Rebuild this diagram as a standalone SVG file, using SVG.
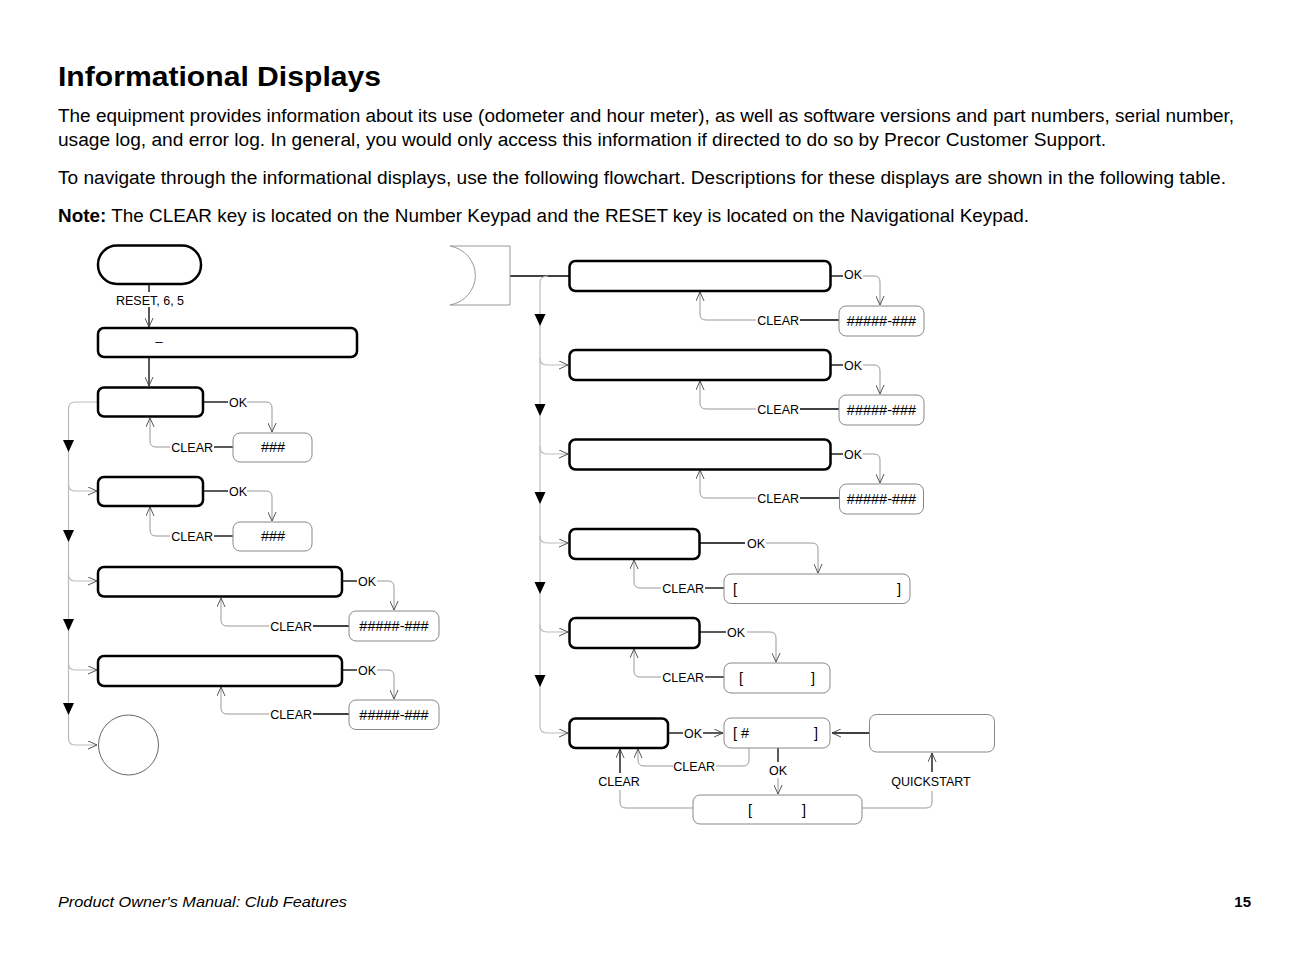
<svg xmlns="http://www.w3.org/2000/svg" width="1312" height="954" viewBox="0 0 1312 954">
<style>
text{font-family:"Liberation Sans",Arial,Helvetica,sans-serif;fill:#000}
.h{font-size:28px;font-weight:bold}
.p{font-size:18px}
.l{font-size:12.5px}
.v{font-size:13.5px}
.w{font-size:14.5px}
.mb{fill:#fff;stroke:#000;stroke-width:2.5}
.vb{fill:#fff;stroke:#888;stroke-width:1}
.g{fill:none;stroke:#999;stroke-width:1}
.k{fill:none;stroke:#000;stroke-width:1.3}
.sp{fill:none;stroke:#bbb;stroke-width:1.2}
.tri{fill:#000}
</style>
<defs>
<marker id="a" viewBox="0 0 10 10" refX="10" refY="5" markerWidth="9" markerHeight="9" markerUnits="userSpaceOnUse" orient="auto"><path d="M0,0.5 L10,5 L0,9.5" fill="none" stroke="#444" stroke-width="1"/></marker>
</defs>
<rect width="1312" height="954" fill="#fff"/>

<g id="header">
<text class="h" x="58" y="86" textLength="323" lengthAdjust="spacingAndGlyphs">Informational Displays</text>
<text class="p" x="58" y="122" textLength="1176" lengthAdjust="spacingAndGlyphs">The equipment provides information about its use (odometer and hour meter), as well as software versions and part numbers, serial number,</text>
<text class="p" x="58" y="146" textLength="1048" lengthAdjust="spacingAndGlyphs">usage log, and error log. In general, you would only access this information if directed to do so by Precor Customer Support.</text>
<text class="p" x="58" y="184" textLength="1168" lengthAdjust="spacingAndGlyphs">To navigate through the informational displays, use the following flowchart. Descriptions for these displays are shown in the following table.</text>
<text class="p" x="58" y="222" textLength="971" lengthAdjust="spacingAndGlyphs"><tspan font-weight="bold">Note:</tspan> The CLEAR key is located on the Number Keypad and the RESET key is located on the Navigational Keypad.</text>
</g>

<g id="connectors">
<path class="k" d="M149,284 V292"/>
<path class="k" d="M149,307 V327" marker-end="url(#a)"/>
<path class="k" d="M149,357 V386" marker-end="url(#a)"/>
<path class="sp" d="M98,402 H75 Q68.5,402 68.5,409 V738 Q68.5,745 75,745 H97" marker-end="url(#a)"/>
<path class="sp" d="M68.5,484 Q68.5,491 75,491 H97" marker-end="url(#a)"/>
<path class="sp" d="M68.5,574 Q68.5,581 75,581 H97" marker-end="url(#a)"/>
<path class="sp" d="M68.5,663 Q68.5,670 75,670 H97" marker-end="url(#a)"/>
<path class="k" d="M203,402 H228"/>
<path class="g" d="M247,402 H266 Q272,402 272,408 V432" marker-end="url(#a)"/>
<path class="k" d="M233,447 H214"/>
<path class="g" d="M170,447 H156 Q150,447 150,441 V418" marker-end="url(#a)"/>
<path class="k" d="M203,491 H228"/>
<path class="g" d="M247,491 H266 Q272,491 272,497 V521" marker-end="url(#a)"/>
<path class="k" d="M233,536 H214"/>
<path class="g" d="M170,536 H156 Q150,536 150,530 V507" marker-end="url(#a)"/>
<path class="k" d="M342,581 H357"/>
<path class="g" d="M377,581 H388 Q394,581 394,587 V610" marker-end="url(#a)"/>
<path class="k" d="M349,626 H313"/>
<path class="g" d="M269,626 H227 Q221,626 221,620 V598" marker-end="url(#a)"/>
<path class="k" d="M342,670 H357"/>
<path class="g" d="M377,670 H388 Q394,670 394,676 V699" marker-end="url(#a)"/>
<path class="k" d="M349,714 H313"/>
<path class="g" d="M269,714 H227 Q221,714 221,708 V687" marker-end="url(#a)"/>

<path class="k" d="M510,276 H569"/>
<path class="sp" d="M548,276 Q540,276 540,283 V726 Q540,733 547,733 H568" marker-end="url(#a)"/>
<path class="sp" d="M540,358 Q540,365 547,365 H568" marker-end="url(#a)"/>
<path class="sp" d="M540,447 Q540,454 547,454 H568" marker-end="url(#a)"/>
<path class="sp" d="M540,536 Q540,543 547,543 H568" marker-end="url(#a)"/>
<path class="sp" d="M540,625 Q540,632 547,632 H568" marker-end="url(#a)"/>
<path class="k" d="M831,276 H843"/>
<path class="g" d="M863,276 H874 Q880,276 880,282 V305" marker-end="url(#a)"/>
<path class="k" d="M839,320 H800"/>
<path class="g" d="M756,320 H706 Q700,320 700,314 V292" marker-end="url(#a)"/>
<path class="k" d="M831,365 H843"/>
<path class="g" d="M863,365 H874 Q880,365 880,371 V394" marker-end="url(#a)"/>
<path class="k" d="M839,409 H800"/>
<path class="g" d="M756,409 H706 Q700,409 700,403 V381" marker-end="url(#a)"/>
<path class="k" d="M831,454 H843"/>
<path class="g" d="M863,454 H874 Q880,454 880,460 V483" marker-end="url(#a)"/>
<path class="k" d="M839,498 H800"/>
<path class="g" d="M756,498 H706 Q700,498 700,492 V470" marker-end="url(#a)"/>
<path class="k" d="M700,543 H745"/>
<path class="g" d="M766,543 H812 Q818,543 818,549 V573" marker-end="url(#a)"/>
<path class="k" d="M724,588 H705"/>
<path class="g" d="M661,588 H640 Q634,588 634,582 V560" marker-end="url(#a)"/>
<path class="k" d="M700,632 H726"/>
<path class="g" d="M747,632 H770 Q776,632 776,638 V662" marker-end="url(#a)"/>
<path class="k" d="M724,677 H705"/>
<path class="g" d="M661,677 H640 Q634,677 634,671 V649" marker-end="url(#a)"/>
<path class="k" d="M668,733 H683"/>
<path class="k" d="M703,733 H723" marker-end="url(#a)"/>
<path class="k" d="M869,733 H832" marker-end="url(#a)"/>
<path class="g" d="M749,748 V760 Q749,766 743,766 H716"/>
<path class="g" d="M673,766 H644 Q638,766 638,760 V749" marker-end="url(#a)"/>
<path class="k" d="M778,748 V762"/>
<path class="g" d="M778,778 V794" marker-end="url(#a)"/>
<path class="g" d="M693,808 H626 Q620,808 620,802 V790"/>
<path class="k" d="M620,773 V749" marker-end="url(#a)"/>
<path class="g" d="M862,808 H926 Q932,808 932,802 V791"/>
<path class="k" d="M932,772 V753" marker-end="url(#a)"/>
</g>

<g id="triangles">
<polygon class="tri" points="63,440 74,440 68.5,452"/>
<polygon class="tri" points="63,530 74,530 68.5,542"/>
<polygon class="tri" points="63,619 74,619 68.5,631"/>
<polygon class="tri" points="63,703 74,703 68.5,715"/>
<polygon class="tri" points="534.5,314 545.5,314 540,326"/>
<polygon class="tri" points="534.5,404 545.5,404 540,416"/>
<polygon class="tri" points="534.5,492 545.5,492 540,504"/>
<polygon class="tri" points="534.5,582 545.5,582 540,594"/>
<polygon class="tri" points="534.5,675 545.5,675 540,687"/>
</g>

<g id="labels">
<text class="l" x="150" y="305" text-anchor="middle">RESET, 6, 5</text>
<text class="l" x="229" y="406.5">OK</text>
<text class="l" x="229" y="495.5">OK</text>
<text class="l" x="358" y="585.5">OK</text>
<text class="l" x="358" y="674.5">OK</text>
<text class="l" x="213" y="451.5" text-anchor="end">CLEAR</text>
<text class="l" x="213" y="540.5" text-anchor="end">CLEAR</text>
<text class="l" x="312" y="630.5" text-anchor="end">CLEAR</text>
<text class="l" x="312" y="718.5" text-anchor="end">CLEAR</text>
<text class="l" x="844" y="278.5">OK</text>
<text class="l" x="844" y="369.5">OK</text>
<text class="l" x="844" y="458.5">OK</text>
<text class="l" x="799" y="324.5" text-anchor="end">CLEAR</text>
<text class="l" x="799" y="413.5" text-anchor="end">CLEAR</text>
<text class="l" x="799" y="502.5" text-anchor="end">CLEAR</text>
<text class="l" x="747" y="547.5">OK</text>
<text class="l" x="727" y="636.5">OK</text>
<text class="l" x="704" y="592.5" text-anchor="end">CLEAR</text>
<text class="l" x="704" y="681.5" text-anchor="end">CLEAR</text>
<text class="l" x="684" y="737.5">OK</text>
<text class="l" x="715" y="770.5" text-anchor="end">CLEAR</text>
<text class="l" x="778" y="774.5" text-anchor="middle">OK</text>
<text class="l" x="619" y="785.5" text-anchor="middle">CLEAR</text>
<text class="l" x="931" y="785.5" text-anchor="middle">QUICKSTART</text>
</g>

<g id="n-start"><rect class="mb" x="98" y="245.5" width="103" height="38.5" rx="19" stroke-width="3"/></g>
<g id="n-entry"><rect class="mb" x="98" y="328" width="259" height="29" rx="6"/><text class="v" x="159" y="346" text-anchor="middle">–</text></g>
<g id="n-l1"><rect class="mb" x="98" y="387.5" width="105" height="29" rx="6"/></g>
<g id="n-l1v"><rect class="vb" x="233" y="433" width="79" height="29" rx="7"/><text class="w" x="273" y="452" text-anchor="middle">###</text></g>
<g id="n-l2"><rect class="mb" x="98" y="477" width="105" height="29" rx="6"/></g>
<g id="n-l2v"><rect class="vb" x="233" y="522" width="79" height="29" rx="7"/><text class="w" x="273" y="541" text-anchor="middle">###</text></g>
<g id="n-l3"><rect class="mb" x="98" y="567" width="244" height="29.5" rx="6"/></g>
<g id="n-l3v"><rect class="vb" x="349" y="611" width="90" height="30" rx="7"/><text class="w" x="394" y="631" text-anchor="middle">#####-###</text></g>
<g id="n-l4"><rect class="mb" x="98" y="656" width="244" height="30" rx="6"/></g>
<g id="n-l4v"><rect class="vb" x="349" y="700" width="90" height="29.5" rx="7"/><text class="w" x="394" y="719.5" text-anchor="middle">#####-###</text></g>
<g id="n-end"><circle cx="128.5" cy="745" r="30" fill="#fff" stroke="#666" stroke-width="1"/></g>

<g id="n-offpage"><path d="M450,246 H510 V305 H450 A31,30 0 0 0 450,246 Z" fill="#fff" stroke="#999" stroke-width="1"/></g>
<g id="n-r1"><rect class="mb" x="569.5" y="261" width="261" height="30" rx="6"/></g>
<g id="n-r1v"><rect class="vb" x="839" y="306" width="85" height="30" rx="7"/><text class="w" x="881.5" y="325.5" text-anchor="middle">#####-###</text></g>
<g id="n-r2"><rect class="mb" x="569.5" y="350" width="261" height="30" rx="6"/></g>
<g id="n-r2v"><rect class="vb" x="839" y="395" width="85" height="30" rx="7"/><text class="w" x="881.5" y="414.5" text-anchor="middle">#####-###</text></g>
<g id="n-r3"><rect class="mb" x="569.5" y="439.5" width="261" height="30" rx="6"/></g>
<g id="n-r3v"><rect class="vb" x="839.5" y="484" width="84" height="30" rx="7"/><text class="w" x="881.5" y="503.5" text-anchor="middle">#####-###</text></g>
<g id="n-r4"><rect class="mb" x="569.5" y="529" width="130" height="30" rx="6"/></g>
<g id="n-r4v"><rect class="vb" x="724" y="574" width="186" height="29.5" rx="7"/><text class="w" x="735" y="593.5" text-anchor="middle">[</text><text class="w" x="899" y="593.5" text-anchor="middle">]</text></g>
<g id="n-r5"><rect class="mb" x="569.5" y="618" width="130" height="30" rx="6"/></g>
<g id="n-r5v"><rect class="vb" x="724" y="663" width="106" height="30" rx="7"/><text class="w" x="741" y="682.5" text-anchor="middle">[</text><text class="w" x="813" y="682.5" text-anchor="middle">]</text></g>
<g id="n-r6"><rect class="mb" x="569.5" y="718.5" width="98.5" height="29.5" rx="6"/></g>
<g id="n-r6v"><rect class="vb" x="724" y="718" width="106" height="30" rx="7"/><text class="w" x="733" y="737.5">[ #</text><text class="w" x="816" y="737.5" text-anchor="middle">]</text></g>
<g id="n-qs"><rect class="vb" x="869.5" y="714.5" width="125" height="37.5" rx="7"/></g>
<g id="n-bottom"><rect class="vb" x="693" y="795" width="169" height="29" rx="7"/><text class="w" x="750" y="814.5" text-anchor="middle">[</text><text class="w" x="804" y="814.5" text-anchor="middle">]</text></g>

<g id="footer">
<text x="58" y="907" font-size="15" font-style="italic" textLength="289" lengthAdjust="spacingAndGlyphs">Product Owner's Manual: Club Features</text>
<text x="1251" y="907" font-size="15" font-weight="bold" text-anchor="end">15</text>
</g>
</svg>
